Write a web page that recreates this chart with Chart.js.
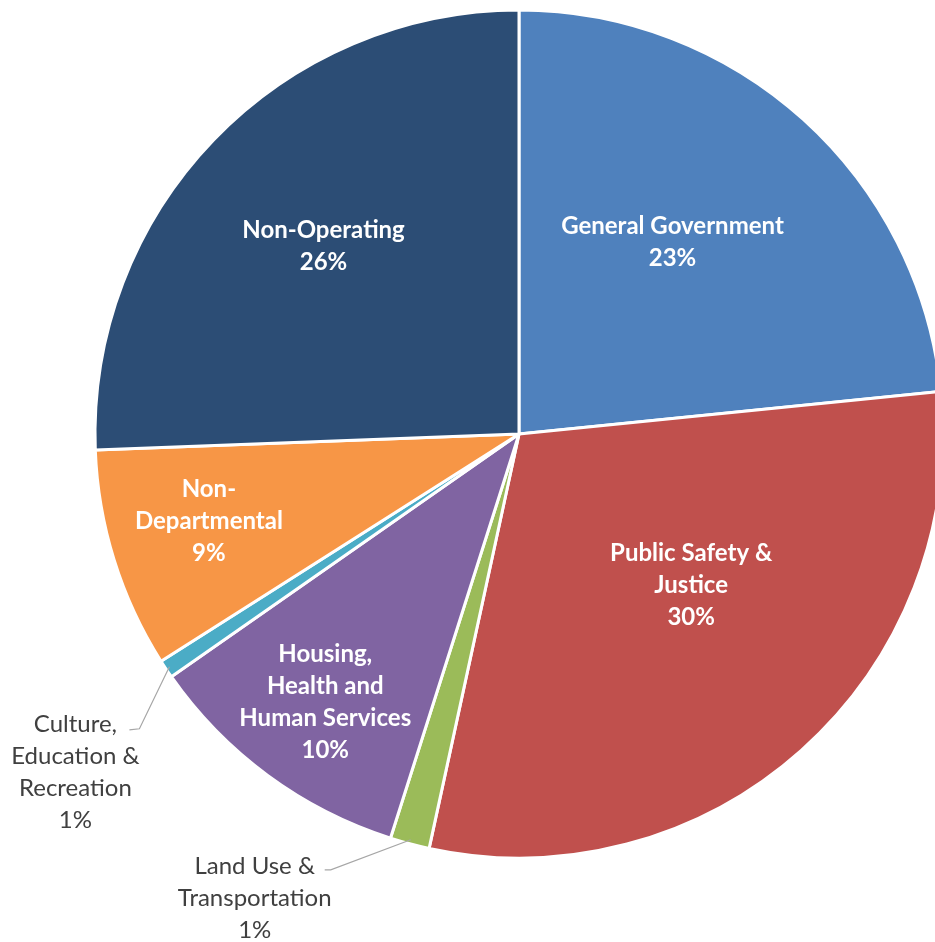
<!DOCTYPE html>
<html>
<head>
<meta charset="utf-8">
<script src="https://cdn.jsdelivr.net/npm/chart.js@4"></script>
<style>
  html, body { margin: 0; padding: 0; background: #fff; }
  #wrap { width: 935px; height: 942px; }
</style>
</head>
<body>
<div id="wrap"><canvas id="chartBudget"></canvas></div>
<script>
// data (share of budget, %)
var categories = ['General Government', 'Public Safety & Justice', 'Land Use & Transportation',
	'Housing, Health and Human Services', 'Culture, Education & Recreation', 'Non-Departmental', 'Non-Operating'];
var shares = [23.4, 30.0, 1.5, 10.4, 0.7, 8.4, 25.6];
var pctLabels = ['23%', '30%', '1%', '10%', '1%', '9%', '26%'];
var colors = ['#4F81BD', '#C0504D', '#9BBB59', '#8064A2', '#4BACC6', '#F79646', '#2C4D75'];

// how each label is broken into lines and where it sits
var labelLines = [
	['General Government'],
	['Public Safety &', 'Justice'],
	['Land Use &', 'Transportation'],
	['Housing,', 'Health and', 'Human Services'],
	['Culture,', 'Education &', 'Recreation'],
	['Non-', 'Departmental'],
	['Non-Operating']
];
var insideRadius = [0.58, 0.54, null, 0.78, null, 0.76, 0.64];
var angleShift = [-3.5, -7, 0, -0.5, 0, 1.5, 0]; // degrees
// outside labels: elbow / line end / text centre, relative to the slice edge point
var outside = {
	2: { elbow: [-80, 30], end: [-86, 30], text: [-156, 58] },
	4: { elbow: [-30, 62], end: [-40, 63], text: [-94, 105] }
};

var labelPlugin = {
	id: 'sliceLabels',
	afterDatasetsDraw: function (chart) {
		var ctx = chart.ctx;
		var arcs = chart.getDatasetMeta(0).data;
		var lh = 32;
		ctx.save();
		ctx.textAlign = 'center';
		ctx.textBaseline = 'middle';
		arcs.forEach(function (arc, i) {
			var p = arc.getProps(['x', 'y', 'startAngle', 'endAngle', 'outerRadius'], true);
			var mid = (p.startAngle + p.endAngle) / 2;
			var lines = labelLines[i].concat([pctLabels[i]]);
			var cx, cy;
			if (insideRadius[i] !== null) {
				var a = mid + angleShift[i] * Math.PI / 180;
				cx = p.x + Math.cos(a) * p.outerRadius * insideRadius[i];
				cy = p.y + Math.sin(a) * p.outerRadius * insideRadius[i];
				ctx.fillStyle = '#ffffff';
				ctx.font = 'bold 24px Lato';
			} else {
				var o = outside[i];
				var ax = p.x + Math.cos(mid) * (p.outerRadius - 4);
				var ay = p.y + Math.sin(mid) * (p.outerRadius - 4);
				ctx.strokeStyle = '#a6a6a6';
				ctx.lineWidth = 1.2;
				ctx.beginPath();
				ctx.moveTo(ax, ay);
				ctx.lineTo(ax + o.elbow[0], ay + o.elbow[1]);
				ctx.lineTo(ax + o.end[0], ay + o.end[1]);
				ctx.stroke();
				cx = ax + o.text[0];
				cy = ay + o.text[1];
				ctx.fillStyle = '#404040';
				ctx.font = '24px Lato';
			}
			var y0 = cy - (lines.length - 1) * lh / 2;
			lines.forEach(function (t, k) {
				ctx.fillText(t, cx, y0 + k * lh);
			});
		});
		ctx.restore();
	}
};

var ctx = document.getElementById('chartBudget').getContext('2d');
var chart = new Chart(ctx, {
	type: 'pie',
	data: {
		labels: categories,
		datasets: [{
			data: shares,
			backgroundColor: colors,
			borderColor: '#ffffff',
			borderWidth: 3,
			radius: 424,
			clip: false
		}]
	},
	options: {
		responsive: true,
		maintainAspectRatio: false,
		animation: false,
		layout: { padding: { left: 103, right: 0, top: 2, bottom: 76 } },
		plugins: {
			legend: { display: false },
			tooltip: { enabled: false }
		}
	},
	plugins: [labelPlugin]
});
</script>
</body>
</html>
